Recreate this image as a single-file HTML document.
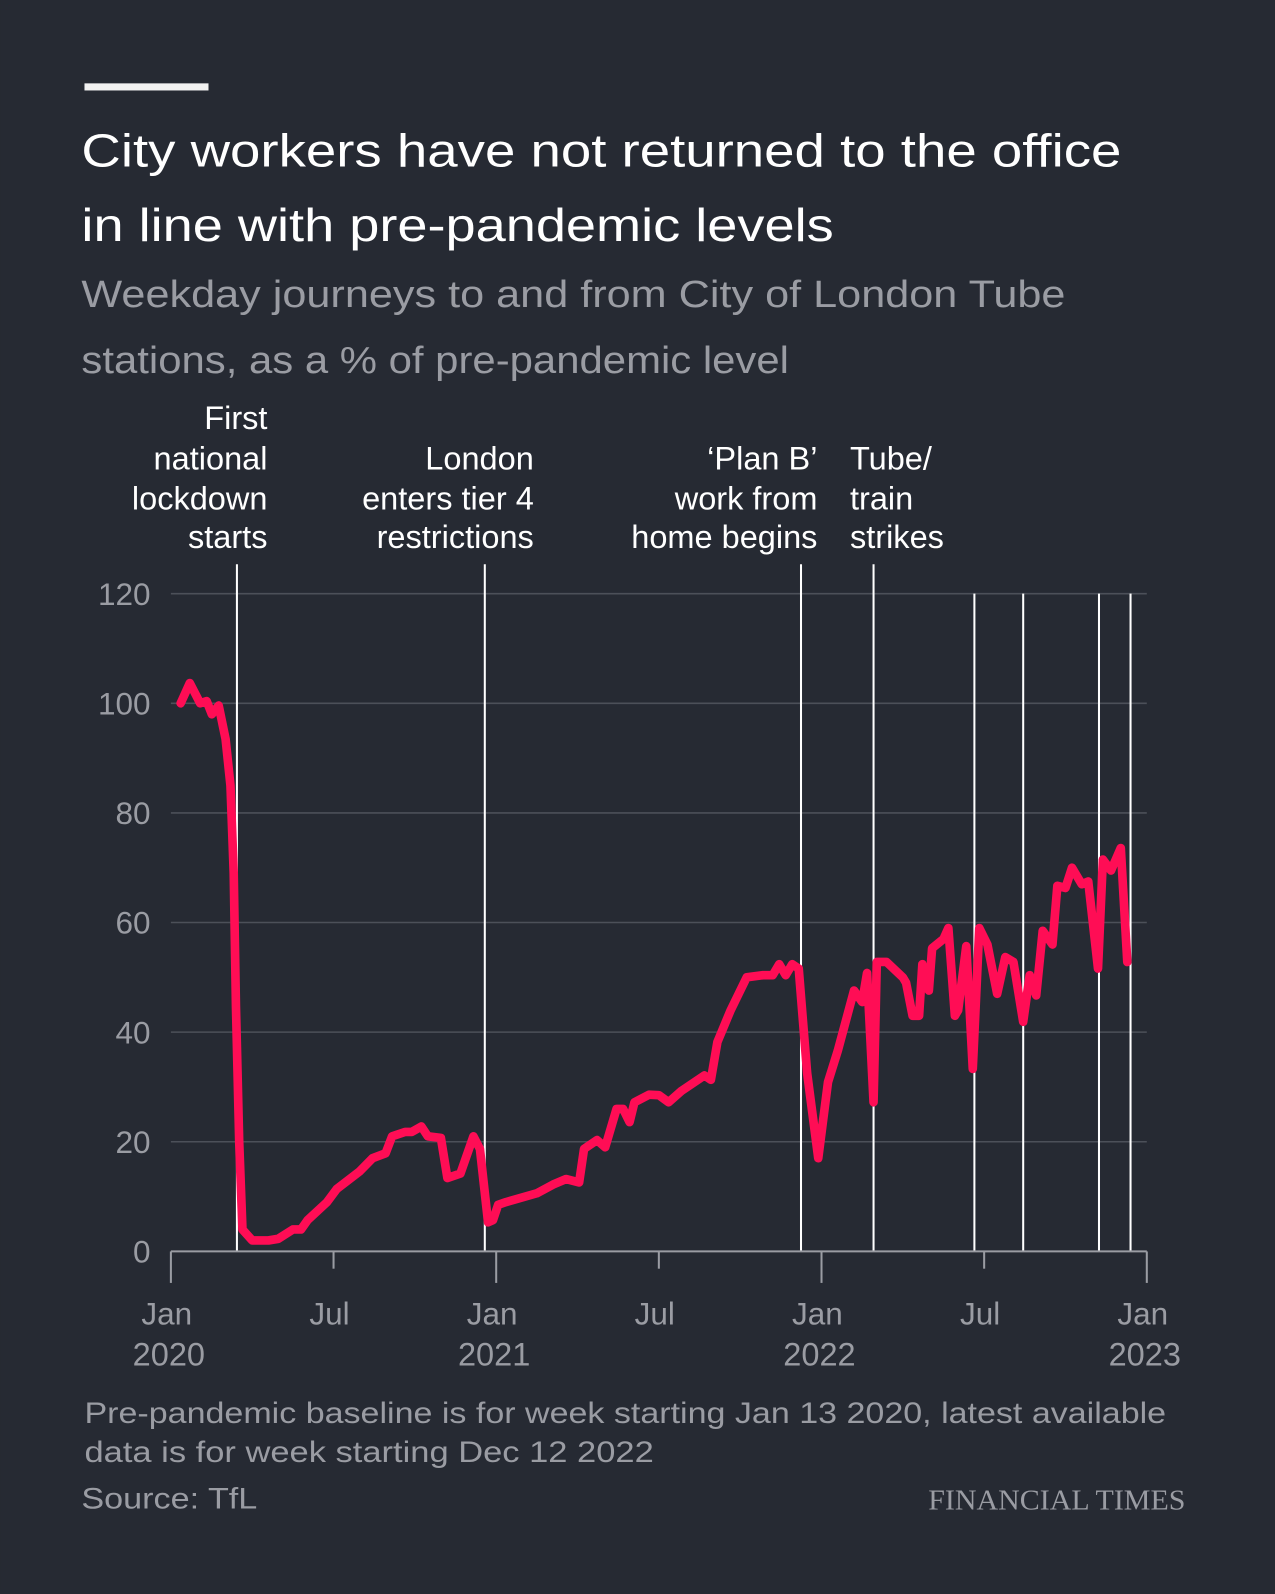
<!DOCTYPE html>
<html><head><meta charset="utf-8"><style>
html,body{margin:0;padding:0;background:#262a33;}
svg{display:block;}
text{font-family:"Liberation Sans",sans-serif;}
</style></head><body>
<svg id="chart" width="1275" height="1594" viewBox="0 0 1254 1568" xmlns="http://www.w3.org/2000/svg">
<rect x="0" y="0" width="1254" height="1568" fill="#262a33"/>
<rect x="83" y="82" width="122" height="7" fill="#f2f2f2"/>
<g fill="#ffffff" font-size="46">
<text x="80" y="164" textLength="1023" lengthAdjust="spacingAndGlyphs">City workers have not returned to the office</text>
<text x="80" y="237" textLength="740" lengthAdjust="spacingAndGlyphs">in line with pre-pandemic levels</text>
</g>
<g fill="#9a9ca3" font-size="37">
<text x="80" y="302" textLength="968" lengthAdjust="spacingAndGlyphs">Weekday journeys to and from City of London Tube</text>
<text x="80" y="367" textLength="696" lengthAdjust="spacingAndGlyphs">stations, as a % of pre-pandemic level</text>
</g>
<g id="grid"></g>
<g id="ylabels" fill="#9a9ca3" font-size="31" text-anchor="end"></g>
<g id="events"></g>
<g id="xaxis"></g>
<path id="line" fill="none" stroke="#ff0d55" stroke-width="8.5" stroke-linejoin="round" stroke-linecap="round"/>
<g fill="#ffffff" font-size="32">
<g text-anchor="end">
<text x="263" y="422">First</text><text x="263" y="462">national</text><text x="263" y="501">lockdown</text><text x="263" y="539">starts</text></g>
<g text-anchor="end">
<text x="525" y="462">London</text><text x="525" y="501">enters tier 4</text><text x="525" y="539">restrictions</text></g>
<g text-anchor="end">
<text x="804" y="462">‘Plan B’</text><text x="804" y="501">work from</text><text x="804" y="539">home begins</text></g>
<g>
<text x="836" y="462">Tube/</text><text x="836" y="501">train</text><text x="836" y="539">strikes</text></g>
</g>
<g fill="#9a9ca3" font-size="29">
<text x="83" y="1400" textLength="1064" lengthAdjust="spacingAndGlyphs">Pre-pandemic baseline is for week starting Jan 13 2020, latest available</text>
<text x="83" y="1438" textLength="560" lengthAdjust="spacingAndGlyphs">data is for week starting Dec 12 2022</text>
<text x="80" y="1484" textLength="173" lengthAdjust="spacingAndGlyphs">Source: TfL</text>
</g>
<text x="1166" y="1485" text-anchor="end" fill="#9a9ca3" font-size="28" style="font-family:'Liberation Serif',serif;" textLength="253" lengthAdjust="spacingAndGlyphs">FINANCIAL TIMES</text>
</svg>
<script>
const yTicks = [0, 20, 40, 60, 80, 100, 120];
const xTickYears = [2020, 2020.5, 2021, 2021.5, 2022, 2022.5, 2023];
const xTickMonths = ["Jan", "Jul", "Jan", "Jul", "Jan", "Jul", "Jan"];
const xTickYearLabels = ["2020", "", "2021", "", "2022", "", "2023"];
const eventDates = [2020.203, 2020.965, 2021.937, 2022.16, 2022.47, 2022.62, 2022.853, 2022.95];
const eventTall = [true, true, true, true, false, false, false, false];
const dates = [2020.03,2020.058,2020.09,2020.11,2020.126,2020.147,2020.168,2020.183,2020.193,2020.2,2020.21,2020.22,2020.25,2020.30,2020.33,2020.375,2020.40,2020.42,2020.48,2020.51,2020.58,2020.62,2020.66,2020.68,2020.72,2020.74,2020.77,2020.79,2020.83,2020.85,2020.89,2020.93,2020.95,2020.975,2020.99,2021.006,2021.03,2021.125,2021.175,2021.215,2021.255,2021.27,2021.31,2021.335,2021.37,2021.39,2021.41,2021.425,2021.47,2021.50,2021.53,2021.57,2021.64,2021.66,2021.68,2021.72,2021.77,2021.82,2021.85,2021.87,2021.89,2021.91,2021.93,2021.956,2021.99,2022.02,2022.05,2022.10,2022.125,2022.14,2022.16,2022.17,2022.20,2022.25,2022.26,2022.28,2022.30,2022.31,2022.33,2022.34,2022.375,2022.39,2022.41,2022.42,2022.445,2022.465,2022.485,2022.51,2022.54,2022.565,2022.59,2022.62,2022.64,2022.66,2022.68,2022.71,2022.725,2022.75,2022.77,2022.80,2022.82,2022.85,2022.865,2022.89,2022.92,2022.94];
const values = [100,103.7,100,100.4,98,99.6,93.5,85,69,44.7,20,4,2,2,2.3,4,4,5.7,9,11.4,14.6,17,17.9,21,21.8,21.8,22.8,21,20.7,13.4,14.2,21,18.7,5.3,5.7,8.5,9,10.6,12.2,13.2,12.6,18.7,20.3,19,26,26,23.6,27.2,28.6,28.5,27.2,29.3,32.1,31.3,38.2,43.9,50,50.4,50.4,52.4,50.4,52.4,51.6,32.5,17,30.9,36.6,47.6,45.5,50.8,27.2,52.8,52.8,50,49,43,43,52.4,47.6,55.3,57,59,43,44,55.7,33.3,59,56,47,53.7,52.8,41.9,50.4,46.7,58.5,56,66.7,66.3,70,67,67.5,51.6,71.5,69.5,73.6,52.8];

const X0 = 168, X1 = 1128, Y0 = 1231, Y120 = 584;
function xs(t){ return X0 + (t - 2020) / 3 * (X1 - X0); }
function ys(v){ return Y0 - v / 120 * (Y0 - Y120); }
const NS = "http://www.w3.org/2000/svg";
function mk(tag, attrs, parent){ const e = document.createElementNS(NS, tag); for (const k in attrs) e.setAttribute(k, attrs[k]); parent.appendChild(e); return e; }

const grid = document.getElementById('grid');
const ylab = document.getElementById('ylabels');
yTicks.forEach(v => {
  if (v > 0) {
    const l = mk('line', {x1: X0, x2: X1, y1: ys(v), y2: ys(v), stroke: '#4c5059', 'stroke-width': 1.5}, grid);
    
    
  }
  const t = mk('text', {x: 148, y: ys(v) + 11}, ylab);
  t.textContent = v;
  
  
});

const ev = document.getElementById('events');
eventDates.forEach((d, i) => {
  const l = mk('line', {x1: xs(d), x2: xs(d), y1: eventTall[i] ? 555 : Y120, y2: Y0, stroke: '#ffffff', 'stroke-width': 2}, ev);
  
  
});

const xa = document.getElementById('xaxis');
const axl = mk('line', {x1: X0, x2: X1, y1: Y0, y2: Y0, stroke: '#9a9ca3', 'stroke-width': 2}, xa);


xTickYears.forEach((d, i) => {
  const major = xTickYearLabels[i] !== "";
  const tk = mk('line', {x1: xs(d), x2: xs(d), y1: Y0, y2: major ? 1262 : 1248, stroke: '#9a9ca3', 'stroke-width': 2}, xa);
  
  
  const t1 = mk('text', {x: xs(d) - 4, y: 1303, 'text-anchor': 'middle', fill: '#9a9ca3', 'font-size': 31}, xa);
  t1.textContent = xTickMonths[i];
  
  
  if (major) {
    const t2 = mk('text', {x: xs(d) - 2, y: 1343, 'text-anchor': 'middle', fill: '#9a9ca3', 'font-size': 32}, xa);
    t2.textContent = xTickYearLabels[i];
    
    
  }
});

document.getElementById('line').setAttribute('d', dates.map((d, i) => (i ? 'L' : 'M') + xs(d).toFixed(1) + ',' + ys(values[i]).toFixed(1)).join(''));
</script>
</body></html>
